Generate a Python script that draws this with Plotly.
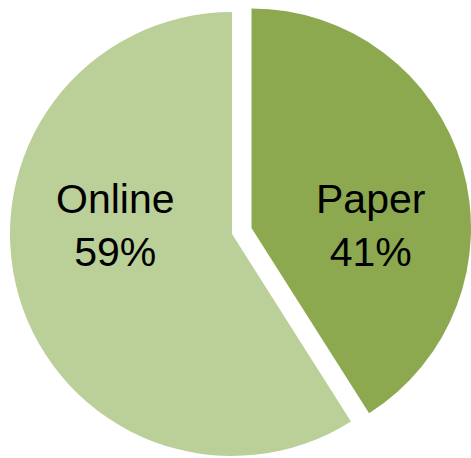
import plotly.graph_objects as go

# Survey response format split
labels = ["Paper", "Online"]
values = [41, 59]
colors = ["#8DA94F", "#BBCF98"]

W, H = 471, 458
font = dict(family="Liberation Sans, Arial, sans-serif", size=41, color="black")

# Pie geometry in pixels: Online sits at the base centre, Paper is offset outward
online_c, online_r = (232.0, 234.0), 222.0
paper_c, paper_r = (251.5, 228.0), 219.5


def domain(c, r):
    return dict(x=[(c[0] - r) / W, min(1.0, (c[0] + r) / W)],
                y=[(H - c[1] - r) / H, (H - c[1] + r) / H])


fig = go.Figure()

# Online slice (Paper slice left transparent)
fig.add_trace(go.Pie(
    labels=labels, values=values, sort=False, direction="clockwise", rotation=0,
    marker=dict(colors=["rgba(0,0,0,0)", colors[1]], line=dict(width=0)),
    textinfo="none", showlegend=False, hoverinfo="skip",
    domain=domain(online_c, online_r),
))

# Paper slice, pulled out from the centre
fig.add_trace(go.Pie(
    labels=labels, values=values, sort=False, direction="clockwise", rotation=0,
    marker=dict(colors=[colors[0], "rgba(0,0,0,0)"], line=dict(width=0)),
    textinfo="none", showlegend=False, hoverinfo="skip",
    domain=domain(paper_c, paper_r),
))

# Category labels with percentages, placed level with the pie centre
total = sum(values)
label_pos = {"Paper": (paper_c[0] + 0.54 * paper_r, 226.0),
             "Online": (online_c[0] - 0.527 * online_r, 226.0)}
for lab, val in zip(labels, values):
    px, py = label_pos[lab]
    fig.add_annotation(
        x=px / W, y=1 - py / H, xref="paper", yref="paper",
        xanchor="center", yanchor="middle", showarrow=False,
        text=f"{lab}<br>{round(100 * val / total)}%", font=font, align="center",
    )

fig.update_layout(
    width=W, height=H,
    margin=dict(l=0, r=0, t=0, b=0),
    paper_bgcolor="white", plot_bgcolor="white",
)

fig.write_html("out.html")
